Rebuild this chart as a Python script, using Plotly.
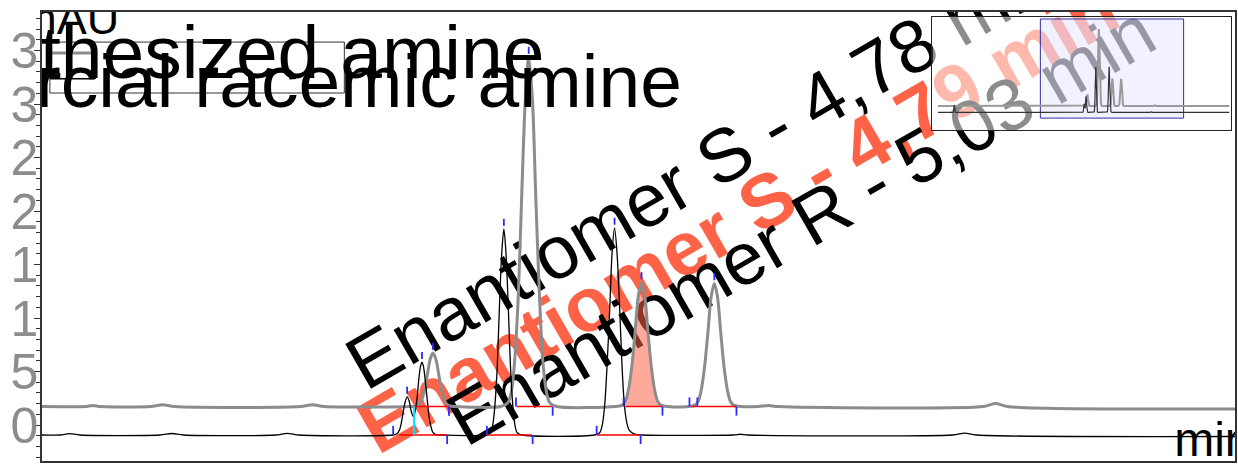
import plotly.graph_objects as go

FONT = "Liberation Sans, Arial, sans-serif"

# ---- chromatogram traces: retention time (min) / absorbance (mAU) ----
black_t = [0.00, 0.42, 0.45, 0.48, 2.813, 2.872, 2.905, 2.938, 3.201, 3.241, 3.280,
           3.583, 3.622, 3.662, 3.971, 3.984, 3.992, 3.998, 4.004, 4.011, 4.017,
           4.024, 4.030, 4.037, 4.043, 4.050, 4.056, 4.061, 4.066, 4.071, 4.076,
           4.083, 4.089, 4.096, 4.102, 4.112, 4.135,
           4.277, 4.292, 4.299, 4.306, 4.314, 4.321, 4.329, 4.336, 4.343, 4.351,
           4.358, 4.366, 4.373, 4.380, 4.395,
           4.635, 4.652, 4.660, 4.668, 4.676, 4.685, 4.693, 4.701, 4.709, 4.718,
           4.726, 4.734, 4.742, 4.750, 4.767, 4.793,
           5.093, 5.116, 5.142, 5.816, 5.856, 5.895, 8.00]
black_v = [-9.3, -9.3, 22.0, -9.3, -9.3, -9.3, -8.0, -9.3, -9.3, -7.9, -9.3,
           -9.3, -7.7, -9.3, -9.3, -8.2, -4.5, 2.2, 12.2, 22.0, 26.3,
           22.2, 13.5, 8.1, 12.1, 25.8, 43.9, 54.6, 58.7, 54.6, 43.7,
           24.7, 8.2, -2.1, -6.9, -9.0, -9.3,
           -9.3, -7.2, -0.8, 16.7, 53.2, 107.5, 160.6, 183.2, 160.6, 107.5,
           53.2, 16.7, -0.8, -7.2, -9.3,
           -9.3, -7.2, -0.8, 16.9, 53.5, 108.1, 161.5, 184.2, 161.5, 108.1,
           53.5, 16.9, 1.5, -5.0, -8.5, -9.3,
           -9.3, -8.6, -9.3, -9.3, -7.6, -9.3, -9.3]

gray_t = [0.00, 2.813, 2.954, 2.981, 3.007, 3.172, 3.211, 3.250, 3.665, 3.704, 3.744,
          4.030, 4.048, 4.057, 4.066, 4.075, 4.084, 4.093, 4.102, 4.112, 4.121,
          4.130, 4.139, 4.148, 4.157, 4.175,
          4.326, 4.349, 4.361, 4.372, 4.384, 4.395, 4.407, 4.418, 4.430, 4.441,
          4.453, 4.464, 4.476, 4.487, 4.510,
          4.704, 4.726, 4.737, 4.747, 4.758, 4.769, 4.779, 4.790, 4.801, 4.811,
          4.822, 4.833, 4.843, 4.854, 4.876,
          4.945, 4.966, 4.977, 4.987, 4.998, 5.009, 5.019, 5.030, 5.041, 5.051,
          5.062, 5.073, 5.083, 5.094, 5.116,
          5.175, 5.208, 5.241, 5.918, 5.958, 5.997, 8.00]
gray_v = [17.3, 17.3, 17.3, 18.3, 17.3, 17.3, 19.0, 17.3, 17.3, 19.0, 17.3,
          17.3, 17.9, 19.5, 24.1, 33.5, 47.6, 61.4, 67.3, 61.4, 47.6,
          33.5, 24.1, 19.5, 17.9, 17.3,
          17.3, 20.9, 31.6, 61.5, 123.3, 215.4, 305.5, 343.9, 305.5, 215.4,
          123.3, 61.5, 31.6, 20.9, 17.3,
          17.3, 18.6, 22.4, 33.0, 55.0, 87.7, 119.7, 133.3, 119.7, 87.7,
          55.0, 33.0, 22.4, 18.6, 17.3,
          17.3, 18.6, 22.3, 32.9, 54.7, 87.0, 118.8, 132.3, 118.8, 87.0,
          54.7, 32.9, 22.3, 18.6, 17.3,
          17.3, 18.3, 17.3, 17.3, 20.2, 17.3, 17.3]
gray_base = 17.3
black_base = -9.3

# ---- integration events (min) ----
gray_start = [4.376, 4.731, 4.948, 4.974]
gray_end = [4.155, 4.497, 4.859, 5.103]
gray_apex_t = [4.102, 4.418, 4.790, 5.030]
gray_apex_v = [67.3, 343.9, 133.3, 132.3]
gray_int = [(4.040, 4.155), (4.379, 4.494), (4.737, 4.856), (4.955, 5.103)]

black_start = [3.971, 4.280, 4.642]
black_end = [4.149, 4.431, 4.787]
black_apex_t = [4.017, 4.066, 4.336, 4.701]
black_apex_v = [26.3, 58.7, 183.2, 184.2]
black_int = [(3.991, 4.149), (4.280, 4.428), (4.642, 4.787)]
drop_t = 4.040

highlight = (4.737, 4.856)  # shaded S enantiomer peak

# ---- text ----
legend_names = ["Synthesized amine", "Commercial racemic amine"]
peak_labels = ["Enantiomer S - 4,78 min", "Enantiomer S - 4,79 min", "Enantiomer R - 5,03 min"]
ytick_vals = [0, 50, 100, 150, 200, 250, 300, 350]
ytick_text = ["0", "5", "1", "1", "2", "2", "3", "3"]

X_RANGE = [2.813, 6.747]
Y_RANGE = [-33.6, 386.0]

fig = go.Figure()

# shaded area under the highlighted peak
sel = [(t, v) for t, v in zip(gray_t, gray_v) if highlight[0] <= t <= highlight[1]]
fig.add_trace(go.Scatter(
    x=[highlight[0]] + [p[0] for p in sel] + [highlight[1]],
    y=[gray_base] + [p[1] for p in sel] + [gray_base],
    fill="toself", fillcolor="rgba(255,99,71,0.55)", mode="lines",
    line=dict(width=0, shape="spline"), hoverinfo="skip", showlegend=False))

fig.add_trace(go.Scatter(x=gray_t, y=gray_v, mode="lines",
                         line=dict(color="#8c8c8c", width=3, shape="spline", smoothing=0.8),
                         showlegend=False))
fig.add_trace(go.Scatter(x=black_t, y=black_v, mode="lines",
                         line=dict(color="#000000", width=1.3, shape="spline", smoothing=0.8),
                         showlegend=False))


def seg_trace(segs, color, width):
    xs, ys = [], []
    for (xa, ya, xb, yb) in segs:
        xs += [xa, xb, None]
        ys += [ya, yb, None]
    return go.Scatter(x=xs, y=ys, mode="lines", line=dict(color=color, width=width),
                      hoverinfo="skip", showlegend=False)


red_segs = [(a, gray_base, b, gray_base) for a, b in gray_int] + \
           [(a, black_base, b, black_base) for a, b in black_int]
fig.add_trace(seg_trace(red_segs, "#ff0000", 1.6))

blue_segs = []
for t in gray_start:
    blue_segs.append((t, gray_base, t, gray_base + 8.5))
for t in gray_end:
    blue_segs.append((t, gray_base, t, gray_base - 8.5))
for t in black_start:
    blue_segs.append((t, black_base, t, black_base + 8.5))
for t in black_end:
    blue_segs.append((t, black_base, t, black_base - 8.5))
for t, v in zip(gray_apex_t + black_apex_t, gray_apex_v + black_apex_v):
    blue_segs.append((t, v + 3, t, v + 9.5))
fig.add_trace(seg_trace(blue_segs, "#2a2aff", 1.8))
fig.add_trace(seg_trace([(drop_t, black_base, drop_t, gray_base)], "#00e0ff", 2))

# legend box, line samples and labels
LEG_X0, LEG_X1 = 2.839, 3.810
fig.add_shape(type="rect", xref="x", yref="y", x0=LEG_X0, x1=LEG_X1, y0=310.3, y1=357.9,
              line=dict(color="#333333", width=1), layer="below")
fig.add_shape(type="line", xref="x", yref="y", x0=LEG_X0, x1=2.987, y0=347.7, y1=347.7,
              line=dict(color="#8c8c8c", width=3), layer="below")
fig.add_shape(type="line", xref="x", yref="y", x0=LEG_X0, x1=2.987, y0=323.6, y1=323.6,
              line=dict(color="#000000", width=1.3), layer="below")
fig.add_trace(go.Scatter(x=[3.425, 3.425], y=[341.4, 315.2], mode="text", text=legend_names,
                         textposition="middle center",
                         textfont=dict(family=FONT, size=75, color="#000000"),
                         hoverinfo="skip", showlegend=False))
# axis unit labels
fig.add_trace(go.Scatter(x=[2.903, 6.674], y=[376.4, -17.9], mode="text", text=["mAU", "min"],
                         textposition="middle center",
                         textfont=dict(family=FONT, size=[45, 48], color="#000000"),
                         hoverinfo="skip", showlegend=False))

# rotated peak labels
label_pos = [(4.981, 246.7), (5.096, 200.0), (5.303, 192.5)]
label_style = [dict(size=75, color="#000000", weight="normal"),
               dict(size=76, color="#ff6347", weight="bold"),
               dict(size=74, color="#000000", weight="normal")]
for txt, (cx, cy), st in zip(peak_labels, label_pos, label_style):
    fig.add_shape(type="line", xref="x", yref="y", x0=cx, x1=cx, y0=cy, y1=cy,
                  line=dict(width=0), layer="below",
                  label=dict(text=txt, textangle=-30, textposition="middle",
                             xanchor="center", yanchor="middle",
                             font=dict(family=FONT, size=st["size"], color=st["color"],
                                       weight=st["weight"])))

# overview inset: translucent panel drawn over the main plot, then the full run
INSET_X = [-0.15, 8.05]
INSET_Y = [-84.0, 394.5]
fig.add_shape(type="rect", xref="x2", yref="y2", x0=INSET_X[0], x1=INSET_X[1],
              y0=INSET_Y[0], y1=INSET_Y[1], line=dict(width=0),
              fillcolor="rgba(255,255,255,0.55)", layer="below")
fig.add_shape(type="rect", xref="x2", yref="y2", x0=X_RANGE[0], x1=X_RANGE[1],
              y0=Y_RANGE[0], y1=Y_RANGE[1], line=dict(color="#3030a0", width=1),
              fillcolor="rgba(190,190,255,0.22)", layer="below")
fig.add_trace(go.Scatter(x=gray_t, y=gray_v, xaxis="x2", yaxis="y2", mode="lines",
                         line=dict(color="#9a9a9a", width=2), showlegend=False))
fig.add_trace(go.Scatter(x=black_t, y=black_v, xaxis="x2", yaxis="y2", mode="lines",
                         line=dict(color="#333333", width=1.2), showlegend=False))

fig.update_layout(
    width=1238, height=466,
    margin=dict(l=42, r=1, t=12, b=5),
    paper_bgcolor="white", plot_bgcolor="rgba(0,0,0,0)",
    showlegend=False,
    font=dict(family=FONT),
    xaxis=dict(range=X_RANGE, showgrid=False, zeroline=False, showticklabels=False,
               ticks="", showline=True, mirror=True, linecolor="#333333", linewidth=1.5),
    yaxis=dict(range=Y_RANGE, showgrid=False, zeroline=False,
               tickvals=ytick_vals, ticktext=ytick_text, ticks="outside", ticklen=6,
               tickcolor="#333333", ticklabelstandoff=-14,
               tickfont=dict(family=FONT, size=50, color="#8c8c8c"),
               minor=dict(ticks="outside", ticklen=4, dtick=10, tickcolor="#333333"),
               showline=True, mirror=True, linecolor="#333333", linewidth=1.5),
    xaxis2=dict(domain=[0.7464, 0.9967], anchor="y2", range=INSET_X, showgrid=False,
                zeroline=False, showticklabels=False, ticks="", showline=True,
                mirror=True, linecolor="#222222", linewidth=1),
    yaxis2=dict(domain=[0.7372, 0.9889], anchor="x2", range=INSET_Y, showgrid=False,
                zeroline=False, showticklabels=False, ticks="", showline=True,
                mirror=True, linecolor="#222222", linewidth=1),
)

fig.write_html("out.html")
